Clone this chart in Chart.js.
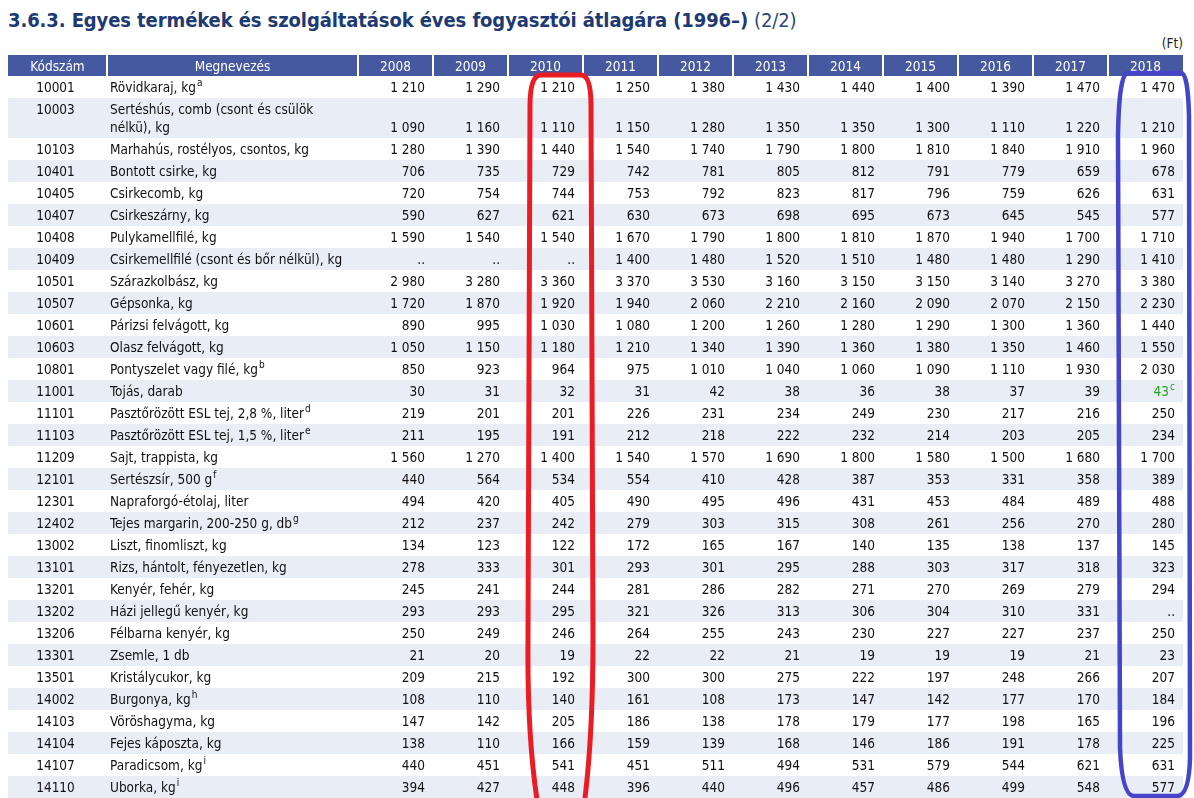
<!DOCTYPE html>
<html lang="hu">
<head>
<meta charset="utf-8">
<title>3.6.3. Egyes termékek és szolgáltatások éves fogyasztói átlagára</title>
<script src="https://cdn.jsdelivr.net/npm/chart.js@4.4.1/dist/chart.umd.min.js"></script>
<style>
html, body { margin: 0; padding: 0; background: #fff; }
#wrap { position: relative; width: 1194px; height: 798px; overflow: hidden; }
#title { position: absolute; left: 8px; top: 8px; white-space: nowrap;
         font-family: "DejaVu Sans Condensed", "DejaVu Sans", sans-serif;
         font-size: 20px; font-weight: bold; color: #1d3a72; letter-spacing: -0.1px; }
#title span { font-weight: normal; margin-left: 6px; color: #28457c; }
#unit { position: absolute; right: 11px; top: 35px;
        font-family: "DejaVu Sans Condensed", "DejaVu Sans", sans-serif;
        font-size: 13.5px; color: #222; }
#table { position: absolute; left: 0; top: 0; }
</style>
</head>
<body>
<div id="wrap">
  <div id="title">3.6.3. Egyes termékek és szolgáltatások éves fogyasztói átlagára (1996–)<span>(2/2)</span></div>
  <div id="unit">(Ft)</div>
  <canvas id="table" width="1194" height="798"></canvas>
</div>
<script>
// table data
var years = ['2008', '2009', '2010', '2011', '2012', '2013', '2014', '2015', '2016', '2017', '2018'];

var codes = ['10001', '10003', '10103', '10401', '10405', '10407', '10408', '10409', '10501', '10507',
             '10601', '10603', '10801', '11001', '11101', '11103', '11209', '12101', '12301', '12402',
             '13002', '13101', '13201', '13202', '13206', '13301', '13501', '14002', '14103', '14104',
             '14107', '14110'];

var names = ['Rövidkaraj, kg', 'Sertéshús, comb (csont és csülök\nnélkü), kg', 'Marhahús, rostélyos, csontos, kg',
             'Bontott csirke, kg', 'Csirkecomb, kg', 'Csirkeszárny, kg', 'Pulykamellfilé, kg',
             'Csirkemellfilé (csont és bőr nélkül), kg', 'Szárazkolbász, kg', 'Gépsonka, kg',
             'Párizsi felvágott, kg', 'Olasz felvágott, kg', 'Pontyszelet vagy filé, kg', 'Tojás, darab',
             'Pasztőrözött ESL tej, 2,8 %, liter', 'Pasztőrözött ESL tej, 1,5 %, liter', 'Sajt, trappista, kg',
             'Sertészsír, 500 g', 'Napraforgó-étolaj, liter', 'Tejes margarin, 200-250 g, db',
             'Liszt, finomliszt, kg', 'Rizs, hántolt, fényezetlen, kg', 'Kenyér, fehér, kg',
             'Házi jellegű kenyér, kg', 'Félbarna kenyér, kg', 'Zsemle, 1 db', 'Kristálycukor, kg',
             'Burgonya, kg', 'Vöröshagyma, kg', 'Fejes káposzta, kg', 'Paradicsom, kg', 'Uborka, kg'];

// footnote letters after the name / after a value
var nameNotes = { '10001': 'a', '10801': 'b', '11101': 'd', '11103': 'e', '12101': 'f',
                  '12402': 'g', '14002': 'h', '14107': 'i', '14110': 'i' };
var valueNotes2018 = { '11001': 'c' };

// null = ".." (no data)
var v2008 = [1210, 1090, 1280, 706, 720, 590, 1590, null, 2980, 1720, 890, 1050, 850, 30, 219, 211,
             1560, 440, 494, 212, 134, 278, 245, 293, 250, 21, 209, 108, 147, 138, 440, 394];
var v2009 = [1290, 1160, 1390, 735, 754, 627, 1540, null, 3280, 1870, 995, 1150, 923, 31, 201, 195,
             1270, 564, 420, 237, 123, 333, 241, 293, 249, 20, 215, 110, 142, 110, 451, 427];
var v2010 = [1210, 1110, 1440, 729, 744, 621, 1540, null, 3360, 1920, 1030, 1180, 964, 32, 201, 191,
             1400, 534, 405, 242, 122, 301, 244, 295, 246, 19, 192, 140, 205, 166, 541, 448];
var v2011 = [1250, 1150, 1540, 742, 753, 630, 1670, 1400, 3370, 1940, 1080, 1210, 975, 31, 226, 212,
             1540, 554, 490, 279, 172, 293, 281, 321, 264, 22, 300, 161, 186, 159, 451, 396];
var v2012 = [1380, 1280, 1740, 781, 792, 673, 1790, 1480, 3530, 2060, 1200, 1340, 1010, 42, 231, 218,
             1570, 410, 495, 303, 165, 301, 286, 326, 255, 22, 300, 108, 138, 139, 511, 440];
var v2013 = [1430, 1350, 1790, 805, 823, 698, 1800, 1520, 3160, 2210, 1260, 1390, 1040, 38, 234, 222,
             1690, 428, 496, 315, 167, 295, 282, 313, 243, 21, 275, 173, 178, 168, 494, 496];
var v2014 = [1440, 1350, 1800, 812, 817, 695, 1810, 1510, 3150, 2160, 1280, 1360, 1060, 36, 249, 232,
             1800, 387, 431, 308, 140, 288, 271, 306, 230, 19, 222, 147, 179, 146, 531, 457];
var v2015 = [1400, 1300, 1810, 791, 796, 673, 1870, 1480, 3150, 2090, 1290, 1380, 1090, 38, 230, 214,
             1580, 353, 453, 261, 135, 303, 270, 304, 227, 19, 197, 142, 177, 186, 579, 486];
var v2016 = [1390, 1110, 1840, 779, 759, 645, 1940, 1480, 3140, 2070, 1300, 1350, 1110, 37, 217, 203,
             1500, 331, 484, 256, 138, 317, 269, 310, 227, 19, 248, 177, 198, 191, 544, 499];
var v2017 = [1470, 1220, 1910, 659, 626, 545, 1700, 1290, 3270, 2150, 1360, 1460, 1930, 39, 216, 205,
             1680, 358, 489, 270, 137, 318, 279, 331, 237, 21, 266, 170, 165, 178, 621, 548];
var v2018 = [1470, 1210, 1960, 678, 631, 577, 1710, 1410, 3380, 2230, 1440, 1550, 2030, 43, 250, 234,
             1700, 389, 488, 280, 145, 323, 294, null, 250, 23, 207, 184, 196, 225, 631, 577];

var yearValues = [v2008, v2009, v2010, v2011, v2012, v2013, v2014, v2015, v2016, v2017, v2018];

// layout
var FONT = '"DejaVu Sans Condensed", "DejaVu Sans", sans-serif';
var TXT = '13.5px ' + FONT, SUP = '10px ' + FONT;
var colWidths = [99, 251].concat(years.map(function () { return 75; }));
var headerH = 21, lineH = 22, extraLineH = 18;
var headerBg = '#4658a0', stripeBg = '#e9edf5';
var textShift = 1.5; // canvas 'middle' sits a bit high for this font

var colStart = [];
var acc = 0;
for (var c = 0; c < colWidths.length; c++) { colStart.push(acc); acc += colWidths[c]; }
var totalW = acc;

var rowTop = [], rowH = [];
acc = headerH;
for (var r = 0; r < names.length; r++) {
    var h = lineH + extraLineH * (names[r].split('\n').length - 1);
    rowTop.push(acc); rowH.push(h); acc += h;
}
var totalH = acc;

// y of the line where the numbers sit (last text line of a row)
function valueLine(i) { return rowTop[i] + rowH[i] - lineH / 2; }

function fmt(v) {
    if (v === null) return '..';
    if (v >= 1000) return Math.floor(v / 1000) + ' ' + String(v % 1000).padStart(3, '0');
    return String(v);
}

var datasets = years.map(function (y, k) {
    return {
        label: y,
        data: yearValues[k].map(function (v, i) {
            return { x: colStart[k + 2] + colWidths[k + 2] / 2, y: valueLine(i), v: v };
        }),
        pointRadius: 0,
        showLine: false
    };
});

function textWithNote(ctx, text, note, x, y, align, color) {
    ctx.fillStyle = color;
    ctx.font = TXT;
    var w = ctx.measureText(text).width;
    var nw = 0;
    if (note) {
        ctx.font = SUP;
        nw = ctx.measureText(note).width + 1;
    }
    var left = align === 'right' ? x - w - nw : x;
    ctx.font = TXT;
    ctx.textAlign = 'left';
    ctx.fillText(text, left, y + textShift);
    if (note) {
        ctx.font = SUP;
        ctx.fillText(note, left + w + 1, y + textShift - 5);
    }
}

var tablePlugin = {
    id: 'tablePlugin',
    beforeDatasetsDraw: function (chart) {
        var ctx = chart.ctx, xs = chart.scales.x, ys = chart.scales.y;
        var L = xs.getPixelForValue(0), R = xs.getPixelForValue(totalW);
        ctx.save();
        // stripes
        ctx.fillStyle = stripeBg;
        for (var i = 0; i < names.length; i++) {
            if (i % 2 === 1) {
                var t = ys.getPixelForValue(rowTop[i]), b = ys.getPixelForValue(rowTop[i] + rowH[i]);
                ctx.fillRect(L, t, R - L, b - t);
            }
        }
        // header
        var hT = ys.getPixelForValue(0), hB = ys.getPixelForValue(headerH);
        ctx.fillStyle = headerBg;
        ctx.fillRect(L, hT, R - L, hB - hT);
        ctx.strokeStyle = '#ffffff';
        ctx.lineWidth = 2;
        for (var c = 1; c < colWidths.length; c++) {
            var x = Math.round(xs.getPixelForValue(colStart[c]));
            ctx.beginPath(); ctx.moveTo(x, hT); ctx.lineTo(x, hB); ctx.stroke();
        }
        var heads = ['Kódszám', 'Megnevezés'].concat(years);
        ctx.fillStyle = '#ffffff';
        ctx.font = TXT;
        ctx.textAlign = 'center';
        ctx.textBaseline = 'middle';
        heads.forEach(function (hd, c) {
            ctx.fillText(hd, xs.getPixelForValue(colStart[c] + colWidths[c] / 2), (hT + hB) / 2 + 1.5);
        });
        ctx.restore();
    },
    afterDatasetsDraw: function (chart) {
        var ctx = chart.ctx, xs = chart.scales.x, ys = chart.scales.y;
        ctx.save();
        ctx.textBaseline = 'middle';
        // codes and names
        for (var i = 0; i < names.length; i++) {
            var firstY = ys.getPixelForValue(rowTop[i] + lineH / 2);
            ctx.font = TXT;
            ctx.fillStyle = '#111';
            ctx.textAlign = 'center';
            ctx.fillText(codes[i], xs.getPixelForValue(colStart[0] + colWidths[0] / 2) - 2, firstY + textShift);
            var lines = names[i].split('\n');
            var nx = xs.getPixelForValue(colStart[1]) + 3;
            lines.forEach(function (ln, j) {
                var note = j === lines.length - 1 ? nameNotes[codes[i]] : null;
                textWithNote(ctx, ln, note, nx, firstY + j * extraLineH, 'left', '#111');
            });
        }
        // values, positioned from the dataset points
        chart.data.datasets.forEach(function (ds, k) {
            var meta = chart.getDatasetMeta(k);
            var right = xs.getPixelForValue(colStart[k + 2] + colWidths[k + 2]) - 8;
            meta.data.forEach(function (pt, i) {
                var v = ds.data[i].v;
                var note = ds.label === '2018' ? valueNotes2018[codes[i]] : null;
                var color = note ? '#25a525' : '#111';
                textWithNote(ctx, fmt(v), note, right, pt.y, 'right', color);
            });
        });

        // hand-drawn highlight rings around 2010 and 2018
        var T = ys.getPixelForValue(headerH), B = chart.chartArea.bottom;
        var L = xs.getPixelForValue(colStart[4]), R = xs.getPixelForValue(colStart[4] + colWidths[4]);
        ctx.lineCap = 'round';
        ctx.lineJoin = 'round';
        ctx.strokeStyle = '#ec1c24';
        ctx.lineWidth = 5;
        ctx.beginPath();
        ctx.moveTo(L + 30, B + 8);
        ctx.quadraticCurveTo(L + 19, B - 60, L + 20, B - 160);
        ctx.lineTo(L + 22, T + 30);
        ctx.quadraticCurveTo(L + 22, T - 1, L + 33, T - 1);
        ctx.lineTo(R - 2, T - 1);
        ctx.quadraticCurveTo(R + 8, T - 1, R + 8, T + 30);
        ctx.lineTo(R + 10, B - 160);
        ctx.quadraticCurveTo(R + 10, B - 60, R + 1, B + 8);
        ctx.stroke();

        L = xs.getPixelForValue(colStart[12]); R = xs.getPixelForValue(colStart[12] + colWidths[12]);
        ctx.strokeStyle = '#4545c9';
        ctx.lineWidth = 4.5;
        ctx.beginPath();
        ctx.moveTo(L + 20, T - 3);
        ctx.lineTo(R - 2, T - 3);
        ctx.quadraticCurveTo(R + 5, T - 3, R + 6, T + 40);
        ctx.lineTo(R + 7, B - 40);
        ctx.quadraticCurveTo(R + 6, B - 2, R - 6, B - 2);
        ctx.lineTo(L + 26, B - 2);
        ctx.quadraticCurveTo(L + 14, B - 2, L + 12, B - 50);
        ctx.lineTo(L + 10, T + 60);
        ctx.quadraticCurveTo(L + 11, T - 3, L + 20, T - 3);
        ctx.closePath();
        ctx.stroke();
        ctx.restore();
    }
};

new Chart(document.getElementById('table'), {
    type: 'scatter',
    data: { datasets: datasets },
    options: {
        responsive: false,
        animation: false,
        events: [],
        layout: { padding: { left: 8, right: 11, top: 55, bottom: 0 } },
        plugins: { legend: { display: false }, tooltip: { enabled: false } },
        scales: {
            x: { type: 'linear', display: false, min: 0, max: totalW },
            y: { type: 'linear', display: false, min: 0, max: totalH, reverse: true }
        }
    },
    plugins: [tablePlugin]
});
</script>
</body>
</html>
